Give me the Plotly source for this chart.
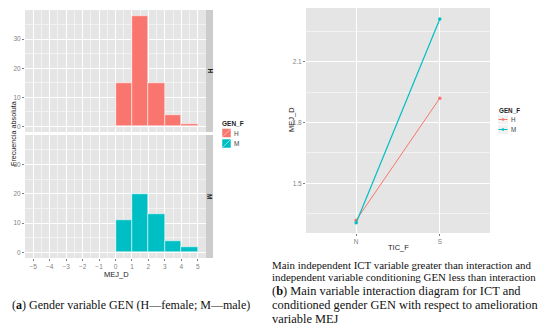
import plotly.graph_objects as go

# ---- data ----
bin_centers = [0.5, 1.5, 2.5, 3.5, 4.5]
counts_H = [15, 38, 15, 4, 1]
counts_M = [11, 20, 13, 4, 2]
x_ticks_left = [-5, -4, -3, -2, -1, 0, 1, 2, 3, 4, 5]
y_ticks_left = [0, 10, 20, 30]

tic_levels = ["N", "S"]
mej_H = [1.319, 1.92]
mej_M = [1.306, 2.31]
y_ticks_right = [1.5, 1.8, 2.1]

COL_H = "#F8766D"
COL_M = "#00BFC4"

# page body has an 8px default margin: size the figure to fill the rest of the window
OFF = 8
W, H = 550 - OFF, 335 - OFF


def fx(px):
    return (px - OFF) / W


def fy(py):
    return 1 - (py - OFF) / H


fig = go.Figure()

fig.add_trace(go.Bar(x=bin_centers, y=counts_H, width=1, marker=dict(color=COL_H, line=dict(color="white", width=0.5)),
                     name="H", xaxis="x", yaxis="y", showlegend=False))
fig.add_trace(go.Bar(x=bin_centers, y=counts_M, width=1, marker=dict(color=COL_M, line=dict(color="white", width=0.5)),
                     name="M", xaxis="x2", yaxis="y2", showlegend=False))
fig.add_trace(go.Scatter(x=tic_levels, y=mej_H, mode="lines+markers", line=dict(color=COL_H, width=1),
                         marker=dict(size=3.5, color=COL_H), name="H", xaxis="x3", yaxis="y3", showlegend=False))
fig.add_trace(go.Scatter(x=tic_levels, y=mej_M, mode="lines+markers", line=dict(color=COL_M, width=1.2),
                         marker=dict(size=3.5, color=COL_M), name="M", xaxis="x3", yaxis="y3", showlegend=False))

tickfont = dict(family="Liberation Sans, Arial, sans-serif", size=6.5, color="#7F7F7F")
common = dict(showline=False, zeroline=False, gridcolor="white", gridwidth=1,
              ticks="outside", ticklen=2, tickcolor="#7F7F7F", tickwidth=0.8, tickfont=tickfont)
minor_grid = dict(showgrid=True, gridcolor="#F2F2F2", gridwidth=0.5)

xl = dict(range=[-5.5, 5.5], tickvals=x_ticks_left, domain=[fx(25), fx(206)],
          minor=dict(dtick=0.5, tick0=0, **minor_grid), **common)
yl = dict(range=[-1.9, 40], tickvals=y_ticks_left, minor=dict(dtick=5, tick0=5, **minor_grid), **common)

fig.update_layout(
    width=W, height=H, margin=dict(l=0, r=0, t=0, b=0),
    paper_bgcolor="white", plot_bgcolor="#E5E5E5", bargap=0,
    xaxis=dict(anchor="y", showticklabels=False, **{k: v for k, v in xl.items() if k != "ticks"}, ticks=""),
    yaxis=dict(anchor="x", domain=[fy(132), fy(10)], **yl),
    xaxis2=dict(anchor="y2", **xl),
    yaxis2=dict(anchor="x2", domain=[fy(258), fy(135)], **yl),
    xaxis3=dict(anchor="y3", domain=[fx(306), fx(490)], type="category", range=[-0.6, 1.6], **common),
    yaxis3=dict(anchor="x3", domain=[fy(233), fy(8)], range=[1.256, 2.364], tickvals=y_ticks_right,
                ticktext=["1.5", "1.8", "2.1"], minor=dict(tickvals=[1.35, 1.65, 1.95, 2.25], **minor_grid), **common),
    font=dict(family="Liberation Sans, Arial, sans-serif"),
)

shapes = []
annos = []
sans = "Liberation Sans, Arial, sans-serif"
serif = "Liberation Serif, Times New Roman, serif"


def txt(text, px, py, size, color="#222", family=sans, xanchor="center", angle=0):
    annos.append(dict(text=text, x=fx(px), y=fy(py), xref="paper", yref="paper", showarrow=False,
                      xanchor=xanchor, yanchor="middle", textangle=angle, borderpad=0,
                      font=dict(family=family, size=size, color=color)))


# facet strips
for (y0, y1, lab) in [(10, 132, "H"), (135, 258, "M")]:
    shapes.append(dict(type="rect", xref="paper", yref="paper", x0=fx(206), x1=fx(213), y0=fy(y1), y1=fy(y0),
                       fillcolor="#CCCCCC", line=dict(width=0), layer="below"))
    txt("<b>%s</b>" % lab, 209.5, (y0 + y1) / 2, 6.5, color="#1a1a1a", angle=90)

# axis titles
txt("Frecuencia absoluta", 13, 134, 7.2, angle=-90)
txt("MEJ_D", 116, 274, 7.5)
txt("MEJ_D", 291, 120, 7.5, angle=-90)
txt("TIC_F", 398, 247, 7.5)

# left legend (fill keys)
txt("<b>GEN_F</b>", 221, 123, 6.5, xanchor="left")
for i, (lab, col) in enumerate([("H", COL_H), ("M", COL_M)]):
    yc = 133 + i * 10.5
    shapes.append(dict(type="rect", xref="paper", yref="paper", x0=fx(222), x1=fx(231), y0=fy(yc + 4.5), y1=fy(yc - 4.5),
                       fillcolor=col, line=dict(color="white", width=0.5)))
    shapes.append(dict(type="line", xref="paper", yref="paper", x0=fx(222.5), x1=fx(230.5), y0=fy(yc + 4), y1=fy(yc - 4),
                       line=dict(color="white", width=0.5)))
    txt(lab, 233, yc, 6.5, color="#444", xanchor="left")

# right legend (line keys)
txt("<b>GEN_F</b>", 498, 110.5, 6.3, xanchor="left")
for i, (lab, col) in enumerate([("H", COL_H), ("M", COL_M)]):
    yc = 119.5 + i * 10
    shapes.append(dict(type="rect", xref="paper", yref="paper", x0=fx(498), x1=fx(508), y0=fy(yc + 4.5), y1=fy(yc - 4.5),
                       fillcolor="#F2F2F2", line=dict(width=0)))
    shapes.append(dict(type="line", xref="paper", yref="paper", x0=fx(498.5), x1=fx(507.5), y0=fy(yc), y1=fy(yc),
                       line=dict(color=col, width=1)))
    shapes.append(dict(type="circle", xref="paper", yref="paper", x0=fx(501.7), x1=fx(504.3), y0=fy(yc + 1.3), y1=fy(yc - 1.3),
                       fillcolor=col, line=dict(width=0)))
    txt(lab, 510, yc, 6.3, color="#444", xanchor="left")

# captions
txt("(<b>a</b>) Gender variable GEN (H—female; M—male)", 11, 305, 12, color="#111", family=serif, xanchor="left")
cap_small = ["Main independent ICT variable greater than interaction and",
             "independent variable conditioning GEN less than interaction"]
for i, t in enumerate(cap_small):
    txt(t, 271, 265 + i * 12, 10.9, color="#111", family=serif, xanchor="left")
cap_b = ["(<b>b</b>) Main variable interaction diagram for ICT and",
         "conditioned gender GEN with respect to amelioration",
         "variable MEJ"]
for i, t in enumerate(cap_b):
    txt(t, 271, 291 + i * 14, 12.4, color="#111", family=serif, xanchor="left")

fig.update_layout(shapes=shapes, annotations=annos)
fig.write_html("out.html")
